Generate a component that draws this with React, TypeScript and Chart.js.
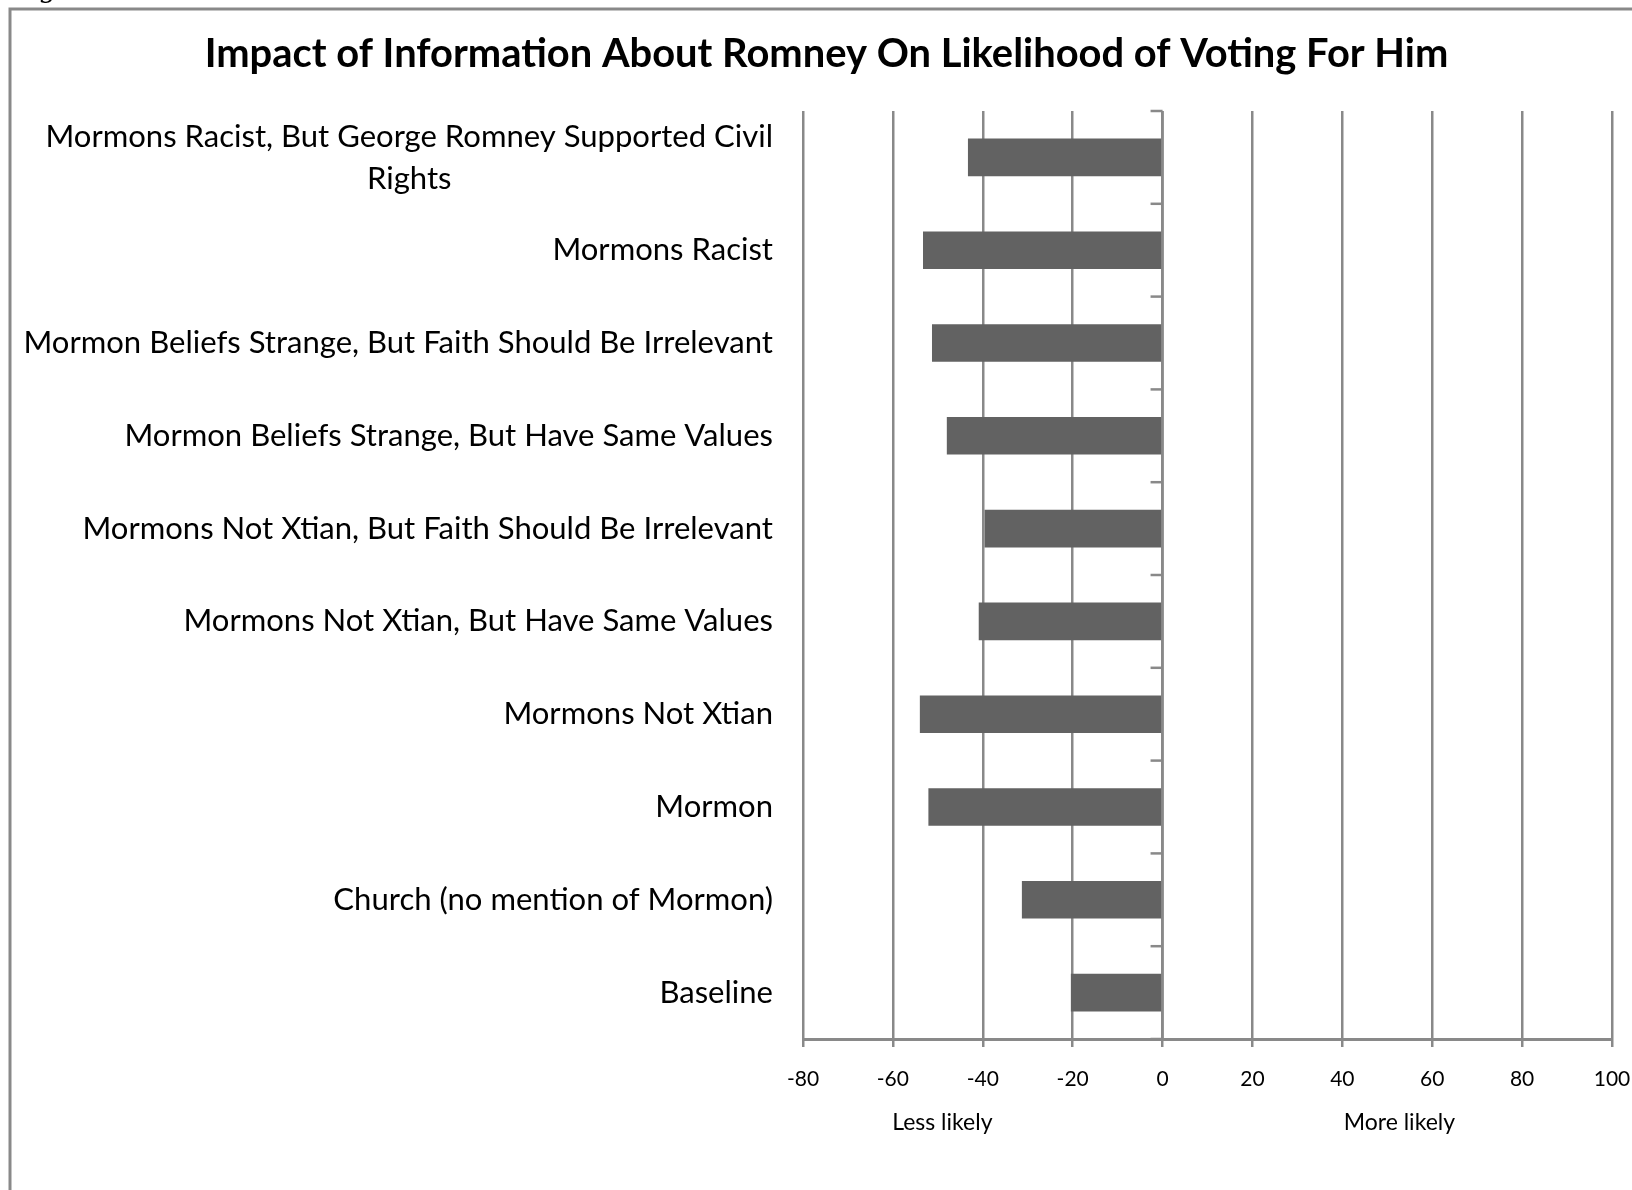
import React, { useEffect, useRef } from "react";
import { Chart, registerables } from "chart.js";

Chart.register(...registerables);

// ---- data ----
const TITLE = "Impact of Information About Romney On Likelihood of Voting For Him";
const categories: (string | string[])[] = [
  ["Mormons Racist, But George Romney Supported Civil", "Rights"],
  "Mormons Racist",
  "Mormon Beliefs Strange, But Faith Should Be Irrelevant",
  "Mormon Beliefs Strange, But Have Same Values",
  "Mormons Not Xtian, But Faith Should Be Irrelevant",
  "Mormons Not Xtian, But Have Same Values",
  "Mormons Not Xtian",
  "Mormon",
  "Church (no mention of Mormon)",
  "Baseline",
];
const values = [-43.3, -53.3, -51.3, -48.0, -39.6, -40.9, -54.0, -52.1, -31.3, -20.4];
const xMin = -80;
const xMax = 100;
const xStep = 20;
const axisNotes = [
  { text: "Less likely", at: -49 },
  { text: "More likely", at: 52.7 },
];

// ---- styles ----
const GRID = "#898989";
const BAR = "#626262";
const FONT = "Lato";

function fitSize(ctx: CanvasRenderingContext2D, text: string, weight: string, target: number) {
  ctx.font = `${weight} 100px ${FONT}`;
  const w = ctx.measureText(text).width;
  return (100 * target) / w;
}

const decor = {
  id: "decor",
  beforeDraw(chart: any) {
    const ctx: CanvasRenderingContext2D = chart.ctx;
    ctx.save();
    ctx.fillStyle = "#ffffff";
    ctx.fillRect(0, 0, chart.width, chart.height);
    ctx.strokeStyle = GRID;
    ctx.lineWidth = 3;
    ctx.strokeRect(10, 9, 1633, 1400);
    ctx.fillStyle = "#000";
    ctx.font = '28px "DejaVu Serif"';
    ctx.textAlign = "left";
    ctx.textBaseline = "alphabetic";
    ctx.fillText("g", 38, -3);
    ctx.restore();
  },
  afterDraw(chart: any) {
    const ctx: CanvasRenderingContext2D = chart.ctx;
    const xs = chart.scales.x;
    const ys = chart.scales.y;
    const area = chart.chartArea;
    ctx.save();

    // title
    ctx.fillStyle = "#000";
    ctx.textAlign = "center";
    ctx.textBaseline = "alphabetic";
    const tSize = fitSize(ctx, TITLE, "bold", 1244);
    ctx.font = `bold ${tSize}px ${FONT}`;
    ctx.fillText(TITLE, 826.5, 67);

    // vertical axis at 0 with tick marks
    const x0 = xs.getPixelForValue(0);
    ctx.strokeStyle = GRID;
    ctx.lineWidth = 2.5;
    ctx.beginPath();
    ctx.moveTo(x0, area.top);
    ctx.lineTo(x0, area.bottom);
    ctx.stroke();
    for (let i = 0; i <= categories.length; i++) {
      const py = ys.getPixelForValue(i - 0.5);
      ctx.beginPath();
      ctx.moveTo(x0 - 12, py);
      ctx.lineTo(x0, py);
      ctx.stroke();
    }

    // category labels
    const widest = categories[2] as string;
    const lSize = fitSize(ctx, widest, "", 750);
    ctx.font = `${lSize}px ${FONT}`;
    ctx.fillStyle = "#000";
    const right = area.left - 30;
    categories.forEach((lab, i) => {
      const c = ys.getPixelForValue(i);
      if (Array.isArray(lab)) {
        const w1 = ctx.measureText(lab[0]).width;
        ctx.textAlign = "right";
        ctx.fillText(lab[0], right, c - 10.5);
        ctx.textAlign = "center";
        ctx.fillText(lab[1], right - w1 / 2, c + 31.5);
      } else {
        ctx.textAlign = "right";
        ctx.fillText(lab, right, c + 10);
      }
    });

    // axis notes
    ctx.font = `23px ${FONT}`;
    ctx.textAlign = "center";
    axisNotes.forEach((n) => {
      ctx.fillText(n.text, xs.getPixelForValue(n.at), 1130);
    });

    ctx.restore();
  },
};

export default function App() {
  const ref = useRef<HTMLCanvasElement>(null);
  useEffect(() => {
    if (!ref.current) return;
    const chart = new Chart(ref.current, {
      type: "bar",
      data: {
        labels: categories as any,
        datasets: [
          {
            data: values,
            backgroundColor: BAR,
            borderWidth: 0,
            categoryPercentage: 1,
            barPercentage: 0.405,
          },
        ],
      },
      options: {
        indexAxis: "y",
        animation: false,
        responsive: false,
        devicePixelRatio: 1,
        layout: { padding: { left: 803, right: 20, top: 111, bottom: 0 } },
        plugins: {
          legend: { display: false },
          title: { display: false },
          tooltip: { enabled: false },
        },
        scales: {
          x: {
            type: "linear",
            min: xMin,
            max: xMax,
            ticks: {
              stepSize: xStep,
              color: "#000",
              font: { family: FONT, size: 21 },
              padding: 20,
            },
            grid: { color: GRID, lineWidth: 2.5, tickLength: 8, drawTicks: true },
            border: { display: true, color: GRID, width: 3 },
            afterFit: (s: any) => {
              s.height = 151;
              s.paddingLeft = 0;
              s.paddingRight = 0;
            },
          },
          y: { type: "category", display: false, offset: true },
        },
      } as any,
      plugins: [decor],
    });
    if ((document as any).fonts && (document as any).fonts.ready) {
      (document as any).fonts.ready.then(() => chart.draw());
    }
    return () => chart.destroy();
  }, []);
  return (
    <div style={{ position: "absolute", left: 0, top: 0, width: 1632, height: 1190, overflow: "hidden" }}>
      <canvas ref={ref} width={1632} height={1190} style={{ display: "block" }} />
    </div>
  );
}
